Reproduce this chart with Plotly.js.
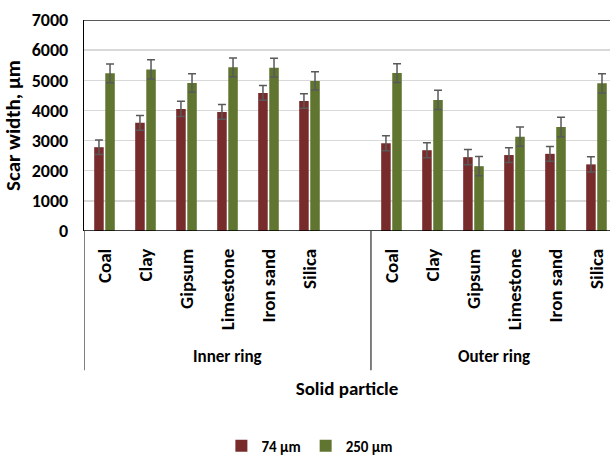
<!DOCTYPE html>
<html>
<head>
<meta charset="utf-8">
<script src="https://cdn.plot.ly/plotly-3.0.1.min.js"></script>
<style>html,body{margin:0;padding:0;background:#fff;overflow:hidden}#chart{width:610px;height:456px}</style>
</head>
<body>
<div id="chart"></div>
<script>
var particles = ["Coal", "Clay", "Gipsum", "Limestone", "Iron sand", "Silica"];
var groups = ["Inner ring", "Outer ring"];
var seriesNames = ["74 µm", "250 µm"];
var inner74 = [2780, 3590, 4050, 3950, 4580, 4310];
var inner74Err = [240, 245, 255, 245, 245, 240];
var inner250 = [5230, 5360, 4910, 5430, 5420, 4980];
var inner250Err = [310, 320, 310, 310, 310, 300];
var outer74 = [2910, 2680, 2450, 2520, 2560, 2210];
var outer74Err = [250, 250, 250, 245, 245, 250];
var outer250 = [5240, 4350, 2150, 3130, 3450, 4900];
var outer250Err = [310, 320, 320, 320, 320, 320];
var yTicks = [0, 1000, 2000, 3000, 4000, 5000, 6000, 7000];

var FONT = "Carlito, 'Liberation Sans Narrow', 'DejaVu Sans Condensed', 'Liberation Sans', sans-serif";
var slot = particles.length + 1; // one empty slot separates the groups
var xs = [], labels = [];
groups.forEach(function (g, gi) {
  particles.forEach(function (p, pi) {
    xs.push(gi * slot + pi);
    labels.push("<b>" + p + "</b>");
  });
});

function trace(name, vals, errs, color) {
  return {
    type: "bar", name: "<b>" + name + "</b>", x: xs, y: vals,
    marker: {color: color, line: {width: 0}},
    error_y: {type: "data", array: errs, visible: true, color: "#595959", thickness: 1.5, width: 4},
    cliponaxis: true, hoverinfo: "y"
  };
}
var data = [
  trace(seriesNames[0], inner74.concat(outer74), inner74Err.concat(outer74Err), "#772b2b"),
  trace(seriesNames[1], inner250.concat(outer250), inner250Err.concat(outer250Err), "#5f7530")
];

var sepY = -0.66;
var groupCenters = [(particles.length - 1) / 2 + 0.5, slot + (particles.length - 1) / 2];
var layout = {
  width: 610, height: 456,
  margin: {l: 84, r: 0, t: 20, b: 225},
  paper_bgcolor: "#fff", plot_bgcolor: "#fff",
  font: {family: FONT, color: "#000"},
  barmode: "group", bargap: 0.46, bargroupgap: 0.14,
  showlegend: true,
  legend: {orientation: "h", x: 0.508, xref: "container", xanchor: "center",
    y: 0.022, yref: "container", yanchor: "middle",
    font: {size: 15, family: FONT}, itemwidth: 30, traceorder: "normal"},
  xaxis: {
    range: [-0.5, 12.33], tickvals: xs, ticktext: labels, tickangle: -90,
    tickfont: {size: 19, family: FONT}, ticks: "", showgrid: false, zeroline: false,
    showline: false, ticklabelstandoff: 13, automargin: false,
    title: {text: "<b>Solid particle</b>", font: {size: 19, family: FONT}, standoff: 52}
  },
  yaxis: {
    range: [0, 7000], tickvals: yTicks, ticktext: yTicks.map(function (v) { return "<b>" + v + "</b>"; }),
    tickfont: {size: 18, family: FONT}, ticks: "", ticklabelstandoff: 11,
    showgrid: true, gridcolor: "#d9d9d9", gridwidth: 1.5, zeroline: false,
    showline: true, linecolor: "#000", linewidth: 1.2, automargin: false,
    title: {text: "<b>Scar width, µm</b>", font: {size: 21, family: FONT}, standoff: 5}
  },
  shapes: [
    {type: "line", xref: "paper", yref: "y", x0: 0, x1: 1, y0: 7000, y1: 7000, line: {color: "#222", width: 1.5}},
    {type: "line", xref: "paper", yref: "y", x0: 0, x1: 1, y0: 0, y1: 0, line: {color: "#000", width: 1.5}},
    {type: "line", xref: "x", yref: "paper", x0: -0.5, x1: -0.5, y0: 0, y1: sepY, line: {color: "#000", width: 1}},
    {type: "line", xref: "x", yref: "paper", x0: slot - 0.5, x1: slot - 0.5, y0: 0, y1: sepY, line: {color: "#000", width: 1}}
  ],
  annotations: groups.map(function (g, gi) {
    return {text: "<b>" + g + "</b>", xref: "x", yref: "paper",
      x: groupCenters[gi], y: -0.597, showarrow: false,
      font: {size: 17, family: FONT}, xanchor: "center", yanchor: "middle"};
  })
};
Plotly.newPlot("chart", data, layout, {staticPlot: true});
</script>
</body>
</html>
